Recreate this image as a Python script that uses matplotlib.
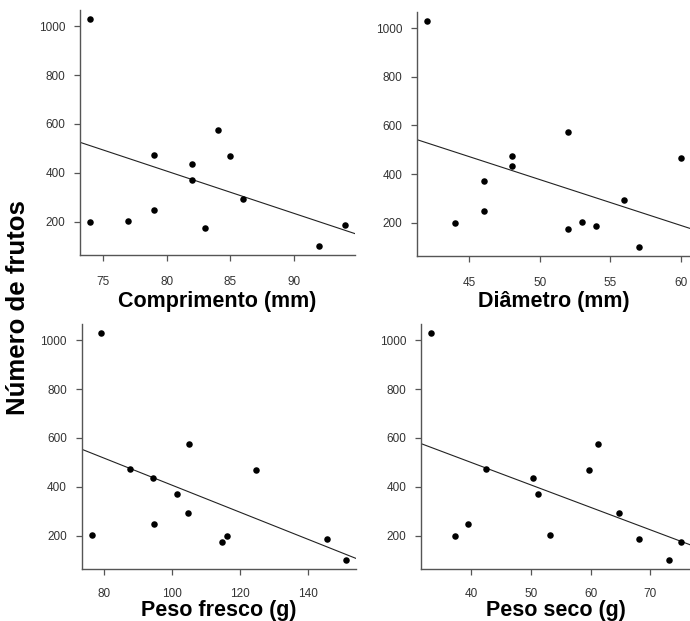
import numpy as np
import matplotlib
matplotlib.use("Agg")
import matplotlib.pyplot as plt

plt.rcParams['font.family'] = ['Liberation Sans', 'DejaVu Sans']

numero_frutos = [1030, 197, 203, 473, 247, 435, 372, 175, 575, 467, 292, 100, 187]
comprimento = [74, 74, 77, 79, 79, 82, 82, 83, 84, 85, 86, 92, 94]
diametro = [42, 44, 53, 48, 46, 48, 46, 52, 52, 60, 56, 57, 54]
peso_fresco = [79.0, 116.1, 76.4, 87.6, 94.7, 94.3, 101.5, 114.7, 105.0, 124.8, 104.7, 151.2, 145.5]
peso_seco = [33.2, 37.3, 53.15, 42.5, 39.45, 50.35, 51.1, 75.2, 61.2, 59.7, 64.7, 73.2, 68.1]

xlabels = ["Comprimento (mm)", "Diâmetro (mm)", "Peso fresco (g)", "Peso seco (g)"]
xticks = [[75, 80, 85, 90], [45, 50, 55, 60], [80, 100, 120, 140], [40, 50, 60, 70]]
yticks = [200, 400, 600, 800, 1000]
ylabel = "Número de frutos"

W, H = 690, 621
fig = plt.figure(figsize=(W / 100, H / 100), dpi=100)

# panel boxes in pixels: left, right, top, bottom ; label baseline ; x tick pad
boxes = [(80, 355, 10, 255), (417, 691, 12, 256), (81.5, 356.5, 324, 569), (421, 691, 324, 569)]
label_base = [307, 307, 616, 616]
xpads = [10.5, 10.5, 9.0, 9.0]
xs = [comprimento, diametro, peso_fresco, peso_seco]

def rlim(v):
    lo, hi = min(v), max(v)
    d = (hi - lo) * 0.04
    return lo - d, hi + d

for (l, r, t, b), x, xl, xt, lb, xp in zip(boxes, xs, xlabels, xticks, label_base, xpads):
    ax = fig.add_axes([l / W, (H - b) / H, (r - l) / W, (b - t) / H])
    ax.scatter(x, numero_frutos, s=22, color='black', zorder=3, linewidths=0)
    m, c = np.polyfit(x, numero_frutos, 1)
    ax.axline((0, c), slope=m, color='#222222', lw=0.8)
    ax.set_xlim(*rlim(x))
    ax.set_ylim(*rlim(numero_frutos))
    ax.set_xticks(xt)
    ax.set_yticks(yticks)
    for s in ['top', 'right']:
        ax.spines[s].set_visible(False)
    for s in ['left', 'bottom']:
        ax.spines[s].set_color('#555555')
        ax.spines[s].set_linewidth(1.0)
    ax.tick_params(direction='out', length=4.5, width=0.9, color='#555555',
                   labelsize=8.5, labelcolor='#333333')
    ax.tick_params(axis='y', pad=6)
    ax.tick_params(axis='x', pad=xp)
    fig.text((l + r) / 2 / W, 1 - lb / H, xl, fontsize=15.5, fontweight='bold',
             ha='center', va='baseline', color='black')

fig.text(18.5 / W, 1 - 308 / H, ylabel, rotation=90, fontsize=18.5, fontweight='bold',
         ha='center', va='center', color='black')

fig.savefig("out.png", dpi=100)
